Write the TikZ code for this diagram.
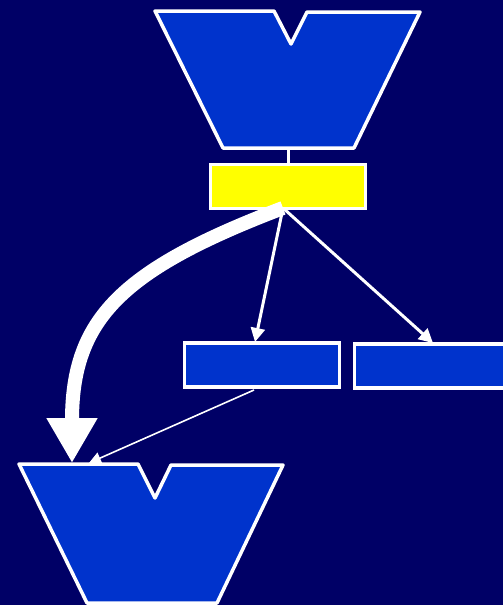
\documentclass[tikz,border=0pt]{standalone}
\usetikzlibrary{arrows.meta}
\definecolor{bgnavy}{HTML}{000066}
\definecolor{vblue}{HTML}{0033CC}
\definecolor{vyellow}{HTML}{FFFF00}
\tikzset{
  vshape/.style={draw=white, line width=3.5pt, fill=vblue, line join=round},
  boxnode/.style={draw=white, line width=3.5pt, fill=vblue, minimum width=155pt, minimum height=44pt, inner sep=0pt, outer sep=0pt},
  yellownode/.style={boxnode, fill=vyellow},
  thinarrow/.style={draw=white, line width=3pt, -{Triangle[length=14pt,width=14pt]}},
  finearrow/.style={draw=white, line width=1.6pt, -{Triangle[length=12pt,width=12pt]}},
  fatarrow/.style={draw=white, line width=14pt, -{Triangle[length=45pt,width=48pt]}},
}
\begin{document}
\begin{tikzpicture}[x=1pt,y=-1pt]
\fill[bgnavy] (0,0) rectangle (503,605);
\useasboundingbox (0,0) rectangle (503,605);
% top V shape
\draw[vshape] (155,11) -- (274,11) -- (291,44) -- (307,12) -- (420,12) -- (354,148) -- (223,148) -- cycle;
\coordinate (topbot) at (288,148);
% yellow box
\node[yellownode] (yel) at (288,186.5) {};
\coordinate (src) at (283,208);
% middle and right boxes
\node[boxnode] (mid) at (262,365) {};
\node[boxnode] (rgt) at (432,366) {};
\coordinate (midout) at (254,390);
% bottom V shape
\draw[vshape] (19,464) -- (138,464) -- (155,498) -- (171,465) -- (283,465) -- (217,603) -- (87,603) -- cycle;
\coordinate (botin1) at (72,463);
\coordinate (botin2) at (89,463);
% connectors
\draw[white, line width=3pt] (topbot) -- (yel.north);
\draw[thinarrow] (src) -- (255,342) coordinate (midin);
\draw[thinarrow] (src) -- (433,343) coordinate (rgtin);
\draw[finearrow] (midout) -- (botin2);
\draw[fatarrow] (src) .. controls (120,270) and (72,320) .. (botin1);
\end{tikzpicture}
\end{document}
